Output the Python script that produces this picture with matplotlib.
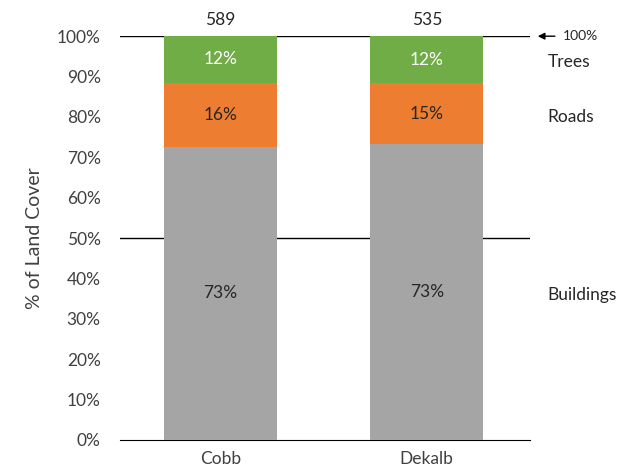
import matplotlib.pyplot as plt
import numpy as np

plt.rcParams['font.family'] = ['Lato', 'DejaVu Sans']

# Land cover shares (%) per county
counties = ['Cobb', 'Dekalb']
buildings = [72.6, 73.3]
roads = [15.9, 15.1]
trees = [11.5, 11.6]
totals = [589, 535]
layer_names = ['Buildings', 'Roads', 'Trees']
layer_labels_y = [36, 80, 93.5]

fig = plt.figure(figsize=(6.32, 4.70), dpi=100)
ax = fig.add_axes([0.19, 0.064, 0.649, 0.859])

x = np.arange(len(counties))
w = 0.55
b = np.array(buildings)
r = np.array(roads)
t = np.array(trees)

ax.bar(x, b, w, color='#A5A5A5', zorder=3)
ax.bar(x, r, w, bottom=b, color='#ED7D31', zorder=3)
ax.bar(x, t, w, bottom=b + r, color='#70AD47', zorder=3)

for i in range(len(counties)):
    ax.text(x[i], b[i] / 2, f'{round(b[i])}%', ha='center', va='center', fontsize=12.5, color='#262626', zorder=4)
    ax.text(x[i], b[i] + r[i] / 2, f'{round(r[i])}%', ha='center', va='center', fontsize=12.5, color='#262626', zorder=4)
    ax.text(x[i], b[i] + r[i] + t[i] / 2, f'{round(t[i])}%', ha='center', va='center', fontsize=12.5, color='white', zorder=4)
    ax.text(x[i], 102, str(totals[i]), ha='center', va='bottom', fontsize=12.5, color='#262626')

for yy in [50, 100]:
    ax.axhline(yy, color='black', lw=1, zorder=2)

ax.set_xlim(-0.488, 1.502)
ax.set_ylim(0, 100)
ax.set_yticks(np.arange(0, 101, 10))
ax.set_yticklabels([f'{v}%' for v in range(0, 101, 10)])
ax.set_xticks(x)
ax.set_xticklabels(counties)
ax.tick_params(length=0, labelsize=12.5, colors='#404040', pad=8)
ax.tick_params(axis='y', pad=14)
for s in ['top', 'right', 'left']:
    ax.spines[s].set_visible(False)
ax.spines['bottom'].set_color('black')
ax.set_ylabel('% of Land Cover', fontsize=14, color='#404040', labelpad=10)

# right-hand annotations
for name, yy in zip(layer_names, layer_labels_y):
    ax.text(1.585, yy, name, ha='left', va='center', fontsize=12.5, color='#262626', clip_on=False)
ax.annotate('', xy=(1.525, 100), xytext=(1.635, 100),
            arrowprops=dict(arrowstyle='-|>', color='black', lw=1, mutation_scale=10),
            annotation_clip=False)
ax.text(1.66, 100, '100%', ha='left', va='center', fontsize=10, color='#262626', clip_on=False)

fig.savefig('out.png', dpi=100)
